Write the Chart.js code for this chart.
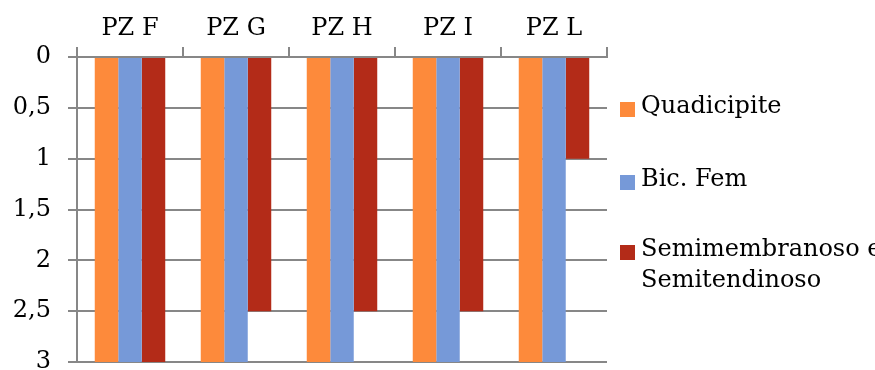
<!DOCTYPE html>
<html><head><meta charset="utf-8">
<script src="https://cdn.jsdelivr.net/npm/chart.js@4/dist/chart.umd.min.js"></script>
<style>
html,body{margin:0;padding:0;background:#fff;}
#wrap{position:relative;width:875px;height:370px;overflow:hidden;}
#c{position:absolute;left:0;top:0;}
.lg{position:absolute;left:620px;font-family:"DejaVu Serif",serif;font-size:24px;color:#000;line-height:31px;white-space:nowrap;}
.lg .sw{position:absolute;left:0;width:15px;height:15px;}
.lg .tx{position:absolute;left:21px;}
</style></head>
<body><div id="wrap"><canvas id="c" width="875" height="370"></canvas></div>
<script>
const categories = ["PZ F", "PZ G", "PZ H", "PZ I", "PZ L"];
const seriesNames = ["Quadicipite", "Bic. Fem", "Semimembranoso e\nSemitendinoso"];
const quadicipite = [3, 3, 3, 3, 3];
const bicFem = [3, 3, 3, 3, 3];
const semi = [3, 2.5, 2.5, 2.5, 1];
const yTickValues = [0, 0.5, 1, 1.5, 2, 2.5, 3];
const yTickLabels = ["0", "0,5", "1", "1,5", "2", "2,5", "3"];
const colors = ["#fd8a3b", "#7699d8", "#b32b18"];

const FONT = {family: "DejaVu Serif", size: 24};
const GRID = "#878787";

const chart = new Chart(document.getElementById('c'), {
  type: 'bar',
  data: {
    labels: categories,
    datasets: [
      {label: seriesNames[0], data: quadicipite, backgroundColor: colors[0]},
      {label: seriesNames[1], data: bicFem, backgroundColor: colors[1]},
      {label: seriesNames[2], data: semi, backgroundColor: colors[2]}
    ]
  },
  options: {
    responsive: false,
    animation: false,
    layout: {padding: {left: 0, right: 268, top: 0, bottom: 8}},
    datasets: {bar: {categoryPercentage: 0.665, barPercentage: 1.0, borderWidth: 0}},
    plugins: {legend: {display: false}, tooltip: {enabled: false}},
    scales: {
      x: {
        position: 'top',
        offset: true,
        grid: {offset: true, drawOnChartArea: false, drawTicks: true, tickLength: 10, color: GRID, lineWidth: 2},
        border: {display: true, color: GRID, width: 2},
        ticks: {font: FONT, color: '#000', padding: 4, maxRotation: 0},
        afterFit: s => { s.height = 57; s.paddingLeft = 0; s.paddingRight = 0; }
      },
      y: {
        reverse: true,
        min: 0, max: 3,
        afterBuildTicks: s => { s.ticks = yTickValues.map(v => ({value: v})); },
        grid: {color: GRID, lineWidth: 2, tickLength: 9, drawTicks: true},
        border: {display: true, color: GRID, width: 2},
        ticks: {font: FONT, color: '#000', padding: 17,
          callback: (v) => { const i = yTickValues.indexOf(v); return i >= 0 ? yTickLabels[i] : ''; }},
        afterFit: s => { s.width = 77; s.paddingTop = 0; s.paddingBottom = 0; }
      }
    }
  }
});

// HTML legend built from datasets
const wrap = document.getElementById('wrap');
const legendTops = [90, 163, 233];
chart.data.datasets.forEach((ds, i) => {
  const d = document.createElement('div');
  d.className = 'lg';
  d.style.top = legendTops[i] + 'px';
  const sw = document.createElement('div');
  sw.className = 'sw';
  sw.style.background = ds.backgroundColor;
  sw.style.top = '12px';
  const tx = document.createElement('div');
  tx.className = 'tx';
  tx.innerHTML = ds.label.split('\n').join('<br>');
  d.appendChild(sw); d.appendChild(tx);
  wrap.appendChild(d);
});
</script></body></html>
